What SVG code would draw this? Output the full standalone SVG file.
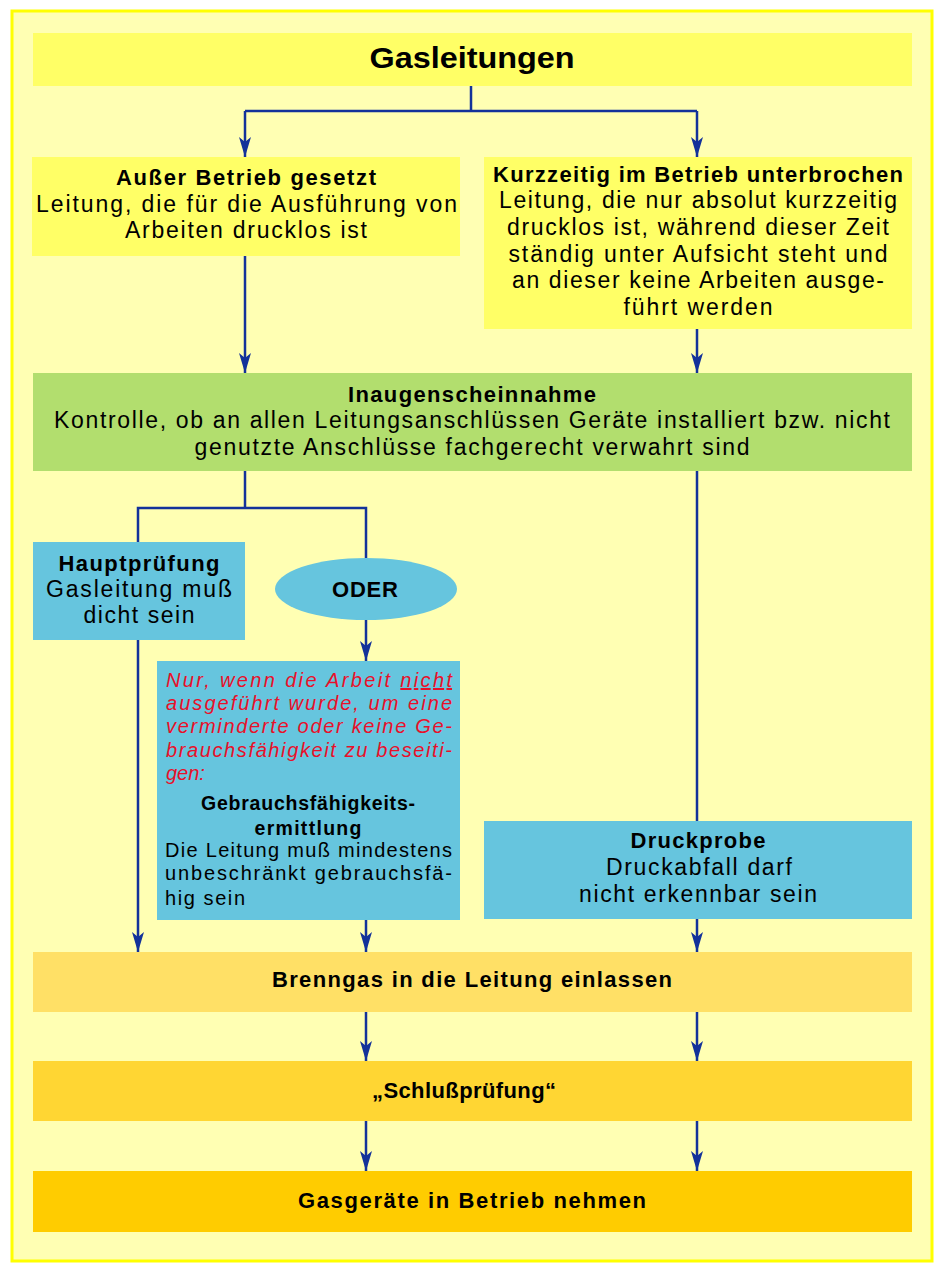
<svg xmlns="http://www.w3.org/2000/svg" width="939" height="1264" viewBox="0 0 939 1264">
<style>
text{font-family:"Liberation Sans",Arial,sans-serif;fill:#000}
.t{font-size:30px;font-weight:bold}
.h{font-size:22px;font-weight:bold}
.b{font-size:23px}
.r{font-size:20px;font-style:italic;fill:#E8102A}
.hs{font-size:19.5px;font-weight:bold}
.bs{font-size:20px}
.c{text-anchor:middle}
.conn{fill:none;stroke:#13329A;stroke-width:2.5}
</style>
<defs>
<marker id="ah" viewBox="0 0 20 12" refX="20" refY="6" markerWidth="20" markerHeight="12" markerUnits="userSpaceOnUse" orient="auto">
<path d="M0,0 L20,6 L0,12 L5,6 Z" fill="#13329A"/>
</marker>
</defs>
<rect x="0" y="0" width="939" height="1264" fill="#FFFFFF"/>
<rect x="12" y="11" width="920" height="1250" fill="#FFFFB3" stroke="#FFFF00" stroke-width="3"/>

<g id="connectors">
<path class="conn" d="M471,86 V111"/>
<path class="conn" d="M245,111 H697"/>
<path class="conn" d="M245,111 V157" marker-end="url(#ah)"/>
<path class="conn" d="M697,111 V157" marker-end="url(#ah)"/>
<path class="conn" d="M245,256 V373" marker-end="url(#ah)"/>
<path class="conn" d="M697,329 V373" marker-end="url(#ah)"/>
<path class="conn" d="M245,471 V508"/>
<path class="conn" d="M138,542 V508 H366 V559"/>
<path class="conn" d="M366,619 V661" marker-end="url(#ah)"/>
<path class="conn" d="M138,640 V952" marker-end="url(#ah)"/>
<path class="conn" d="M366,920 V952" marker-end="url(#ah)"/>
<path class="conn" d="M697,471 V821"/>
<path class="conn" d="M697,919 V952" marker-end="url(#ah)"/>
<path class="conn" d="M366,1012 V1061" marker-end="url(#ah)"/>
<path class="conn" d="M697,1012 V1061" marker-end="url(#ah)"/>
<path class="conn" d="M366,1121 V1171" marker-end="url(#ah)"/>
<path class="conn" d="M697,1121 V1171" marker-end="url(#ah)"/>
</g>

<g id="title">
<rect x="33" y="33" width="879" height="53" fill="#FFFF66"/>
<text class="t c" x="472" y="68" textLength="205" lengthAdjust="spacingAndGlyphs">Gasleitungen</text>
</g>

<g id="ausser-betrieb">
<rect x="32" y="157" width="428" height="99" fill="#FFFF66"/>
<text class="h c" x="246" y="185" textLength="260">Außer Betrieb gesetzt</text>
<text class="b c" x="246.5" y="212" textLength="421">Leitung, die für die Ausführung von</text>
<text class="b c" x="246" y="238" textLength="242">Arbeiten drucklos ist</text>
</g>

<g id="kurzzeitig">
<rect x="484" y="157" width="428" height="172" fill="#FFFF66"/>
<text class="h c" x="698" y="182" textLength="410">Kurzzeitig im Betrieb unterbrochen</text>
<text class="b c" x="698" y="208" textLength="398">Leitung, die nur absolut kurzzeitig</text>
<text class="b c" x="698" y="235" textLength="382">drucklos ist, während dieser Zeit</text>
<text class="b c" x="698" y="262" textLength="379">ständig unter Aufsicht steht und</text>
<text class="b c" x="698" y="288" textLength="372">an dieser keine Arbeiten ausge-</text>
<text class="b c" x="698" y="315" textLength="149">führt werden</text>
</g>

<g id="inaugenscheinnahme">
<rect x="33" y="373" width="879" height="98" fill="#B2DE6E"/>
<text class="h c" x="472" y="402" textLength="248">Inaugenscheinnahme</text>
<text class="b c" x="472" y="428" textLength="836">Kontrolle, ob an allen Leitungsanschlüssen Geräte installiert bzw. nicht</text>
<text class="b c" x="472" y="455" textLength="555">genutzte Anschlüsse fachgerecht verwahrt sind</text>
</g>

<g id="hauptpruefung">
<rect x="33" y="542" width="212" height="98" fill="#66C5DE"/>
<text class="h c" x="139" y="571" textLength="161">Hauptprüfung</text>
<text class="b c" x="139" y="597" textLength="186">Gasleitung muß</text>
<text class="b c" x="139" y="623" textLength="111">dicht sein</text>
</g>

<g id="oder">
<ellipse cx="366" cy="589" rx="91" ry="31" fill="#66C5DE"/>
<text class="h c" x="365" y="597" textLength="66">ODER</text>
</g>

<g id="gebrauchsfaehigkeit">
<rect x="157" y="661" width="303" height="259" fill="#66C5DE"/>
<text class="r" x="166" y="687" textLength="286" lengthAdjust="spacing">Nur, wenn die Arbeit <tspan text-decoration="underline">nicht</tspan></text>
<text class="r" x="166" y="710" textLength="286" lengthAdjust="spacing">ausgeführt wurde, um eine</text>
<text class="r" x="166" y="733" textLength="286" lengthAdjust="spacing">verminderte oder keine Ge-</text>
<text class="r" x="166" y="757" textLength="286" lengthAdjust="spacing">brauchsfähigkeit zu beseiti-</text>
<text class="r" x="166" y="780">gen:</text>
<text class="hs c" x="308" y="810" textLength="214">Gebrauchsfähigkeits-</text>
<text class="hs c" x="308" y="835" textLength="107">ermittlung</text>
<text class="bs" x="165" y="857" textLength="287" lengthAdjust="spacing">Die Leitung muß mindestens</text>
<text class="bs" x="165" y="880" textLength="287" lengthAdjust="spacing">unbeschränkt gebrauchsfä-</text>
<text class="bs" x="165" y="905" textLength="80" lengthAdjust="spacing">hig sein</text>
</g>

<g id="druckprobe">
<rect x="484" y="821" width="428" height="98" fill="#66C5DE"/>
<text class="h c" x="698" y="848" textLength="135">Druckprobe</text>
<text class="b c" x="699" y="875" textLength="186">Druckabfall darf</text>
<text class="b c" x="698" y="902" textLength="238">nicht erkennbar sein</text>
</g>

<g id="brenngas">
<rect x="33" y="952" width="879" height="60" fill="#FFE066"/>
<text class="h c" x="472" y="987" textLength="400">Brenngas in die Leitung einlassen</text>
</g>

<g id="schlusspruefung">
<rect x="33" y="1061" width="879" height="60" fill="#FFD633"/>
<text class="h c" x="464" y="1098" textLength="184">„Schlußprüfung“</text>
</g>

<g id="gasgeraete">
<rect x="33" y="1171" width="879" height="61" fill="#FFCC00"/>
<text class="h c" x="472" y="1208" textLength="348">Gasgeräte in Betrieb nehmen</text>
</g>
</svg>
